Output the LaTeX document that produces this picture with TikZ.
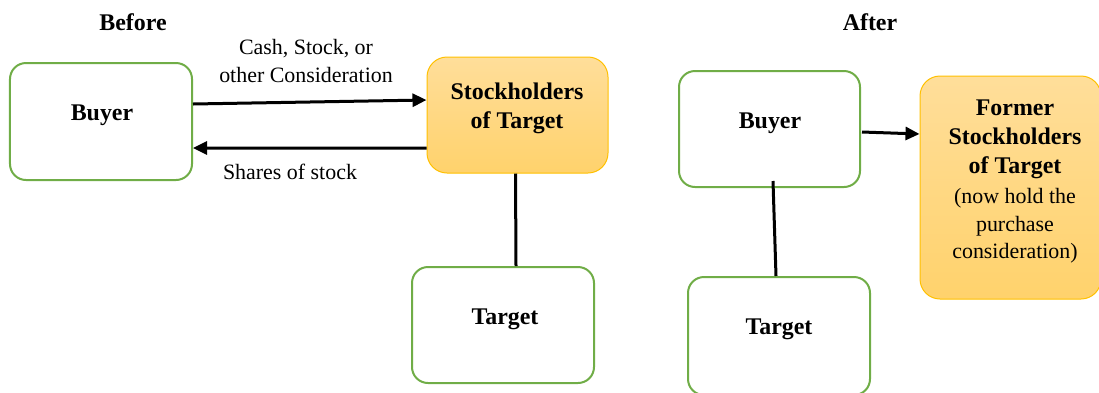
\documentclass[tikz,border=0pt]{standalone}
\usepackage{fontspec}
\setmainfont{Liberation Serif}
\usetikzlibrary{arrows.meta}
\definecolor{grn}{HTML}{70AD47}
\definecolor{gold}{HTML}{FFC000}
\definecolor{ytop}{HTML}{FFDE9A}
\definecolor{ybot}{HTML}{FFD26C}
\begin{document}
\begin{tikzpicture}[x=1bp,y=-1bp,
 gbox/.style={draw=grn, line width=2bp, rounded corners=16bp, fill=white, rectangle, inner sep=0pt},
 ybox/.style={draw=gold, line width=1bp, rounded corners=20bp, top color=ytop, bottom color=ybot, rectangle, inner sep=0pt},
 btxt/.style={font=\fontsize{24}{29}\selectfont\bfseries, align=center, inner sep=0pt},
 rtxt/.style={font=\fontsize{22}{27.5}\selectfont, align=center, inner sep=0pt},
 conn/.style={line width=3bp},
 arr/.style={conn, -{Triangle[length=14bp,width=13bp]}}]
\useasboundingbox (0,0) rectangle (1099,392);
% boxes
\node[gbox, minimum width=182bp, minimum height=117bp] (buyerA) at (101,121.5) {};
\node[ybox, minimum width=181bp, minimum height=116bp] (stock) at (517.5,115) {};
\node[gbox, minimum width=182bp, minimum height=116bp] (targetA) at (503,325) {};
\node[gbox, minimum width=181bp, minimum height=116bp] (buyerB) at (769.5,129) {};
\node[ybox, minimum width=181bp, minimum height=223bp] (former) at (1010.5,187.5) {};
\node[gbox, minimum width=182bp, minimum height=118bp] (targetB) at (779,336) {};
% texts
\node[btxt] (before) at (133,22) {Before};
\node[btxt] (after) at (870,22) {After};
\node[btxt] (tbuyerA) at (102,115) {Buyer};
\node[btxt] (tstock) at (517,108) {Stockholders\\of Target};
\node[btxt] (ttargetA) at (505,319) {Target};
\node[btxt] (tbuyerB) at (770,123) {Buyer};
\node[btxt] (ttargetB) at (779,329) {Target};
\node[btxt] (tformer) at (1015,139) {Former\\Stockholders\\of Target};
\node[rtxt] (tformer2) at (1015,226) {(now hold the\\purchase\\consideration)};
\node[rtxt] (lcash) at (306,61) {Cash, Stock, or\\other Consideration};
\node[rtxt] (lshares) at (290,172) {Shares of stock};
% connectors
\draw[arr] ([yshift=17.5bp]buyerA.east) -- ([yshift=15bp]stock.west);
\draw[arr] ([yshift=-33bp]stock.west) -- ([yshift=-26.5bp]buyerA.east);
\draw[conn] ([xshift=-2bp]stock.south) -- ([xshift=13bp]targetA.north);
\draw[arr] ([xshift=1bp,yshift=-3bp]buyerB.east) -- ([yshift=53.5bp]former.west);
\draw[conn] ([xshift=3.5bp,yshift=7bp]buyerB.south) -- ([xshift=-3bp]targetB.north);
\end{tikzpicture}
\end{document}
